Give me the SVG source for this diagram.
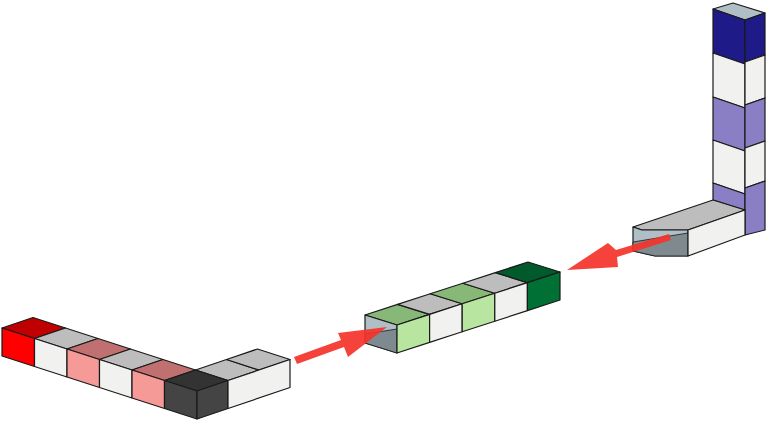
<svg xmlns="http://www.w3.org/2000/svg" width="784" height="432" viewBox="0 0 784 432">
<style>
polygon{stroke:#1a1a1a;stroke-width:1.2;stroke-linejoin:round}
.w{fill:#f1f1ef}.g{fill:#bcbdbc}
.arrow{fill:#f4332a;stroke:none;opacity:0.92}
</style>
<rect width="784" height="432" fill="#fff"/>
<g id="red-block">
<polygon points="33,317.5 65.5,328 34.5,338.5 2,328" fill="#c00000"/>
<polygon points="65.5,328 98,338.5 67,349 34.5,338.5" class="g"/>
<polygon points="98,338.5 130.5,349 99.5,359.5 67,349" fill="#c07070"/>
<polygon points="130.5,349 163,359.5 132,370 99.5,359.5" class="g"/>
<polygon points="163,359.5 195.5,370 164.5,380.5 132,370" fill="#c07070"/>
<polygon points="226.5,359.5 259,370 228,380.5 195.5,370" class="g"/>
<polygon points="257.5,349 290,359.5 259,370 226.5,359.5" class="g"/>
<polygon points="195.5,370 228,380.5 197,391 164.5,380.5" fill="#333"/>
<polygon points="2,328 34.5,338.5 34.5,366.5 2,356" fill="#ff0000"/>
<polygon points="34.5,338.5 67,349 67,377 34.5,366.5" class="w"/>
<polygon points="67,349 99.5,359.5 99.5,387.5 67,377" fill="#f59a96"/>
<polygon points="99.5,359.5 132,370 132,398 99.5,387.5" class="w"/>
<polygon points="132,370 164.5,380.5 164.5,408.5 132,398" fill="#f59a96"/>
<polygon points="164.5,380.5 197,391 197,419 164.5,408.5" fill="#444"/>
<polygon points="197,391 228,380.5 228,408.5 197,419" fill="#444"/>
<polygon points="228,380.5 290,359.5 290,387.5 228,408.5" class="w"/>
</g>
<g id="green-block">
<polygon points="365,315 397.6,304.4 429.6,314.4 397,325" fill="#88b878"/>
<polygon points="397.6,304.4 430.2,293.8 462.2,303.8 429.6,314.4" class="g"/>
<polygon points="430.2,293.8 462.8,283.2 494.8,293.2 462.2,303.8" fill="#88b878"/>
<polygon points="462.8,283.2 495.4,272.6 527.4,282.6 494.8,293.2" class="g"/>
<polygon points="495.4,272.6 528,262 560,272 527.4,282.6" fill="#005a2b"/>
<polygon points="365,315 397,325 397,353 365,343" fill="#b0bec5"/>
<polygon points="365,334 397,329 397,353 365,343" fill="#7f8a90" style="stroke-width:0.8"/>
<polygon points="397,325 429.6,314.4 429.6,342.4 397,353" fill="#b8e6a0"/>
<polygon points="429.6,314.4 462.2,303.8 462.2,331.8 429.6,342.4" class="w"/>
<polygon points="462.2,303.8 494.8,293.2 494.8,321.2 462.2,331.8" fill="#b8e6a0"/>
<polygon points="494.8,293.2 527.4,282.6 527.4,310.6 494.8,321.2" class="w"/>
<polygon points="527.4,282.6 560,272 560,300 527.4,310.6" fill="#007035"/>
</g>
<g id="blue-block">
<polygon points="713,9 733,3 765,13 745,20" fill="#b0bec5"/>
<polygon points="713,9 745,20 745,64 713,53" fill="#1e1a87"/>
<polygon points="713,53 745,64 745,108 713,97" class="w"/>
<polygon points="713,97 745,108 745,151 713,140" fill="#8a7fc4"/>
<polygon points="713,140 745,151 745,194 713,183" class="w"/>
<polygon points="713,183 745,194 745,210 713,200" fill="#8a7fc4"/>
<polygon points="745,20 765,13 765,55 745,62" fill="#1e1a87"/>
<polygon points="745,62 765,55 765,98 745,105" class="w"/>
<polygon points="745,105 765,98 765,141 745,148" fill="#8a7fc4"/>
<polygon points="745,148 765,141 765,181 745,188" class="w"/>
<polygon points="745,188 765,181 765,230 745,235" fill="#8a7fc4"/>
<polygon points="633,227 713,200 745,210 688,230 642,230" class="g"/>
<polygon points="633,227 642,230 688,230 688,256 655,256 633,251" fill="#b0bec5"/>
<polygon points="633,242 688,233 688,256 655,256 633,251" fill="#7f8a90" style="stroke-width:0.8"/>
<polygon points="688,230 745,210 745,235 688,256" class="w"/>
</g>
<g id="connectors">
<polygon class="arrow" points="294,357 341,340 338,333 387,327 348,357 344,347 297,364"/>
<polygon class="arrow" points="669,234 616,250 608,243 567,270 618,267 617,257 671,240"/>
</g>
</svg>
